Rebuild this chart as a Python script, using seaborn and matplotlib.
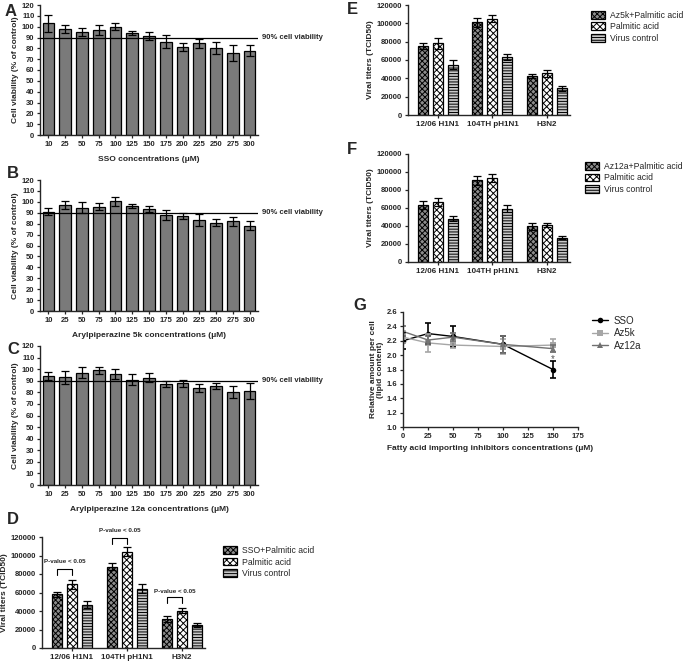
import numpy as np
import pandas as pd
import matplotlib
matplotlib.use('Agg')
import matplotlib.pyplot as plt
import seaborn as sns
from matplotlib.patches import Patch
from matplotlib.lines import Line2D

sns.set_style('ticks')
plt.rcParams['font.family'] = ['Liberation Sans', 'DejaVu Sans']
plt.rcParams['hatch.linewidth'] = 0.7

# ---------------- data ----------------
conc = ['10', '25', '50', '75', '100', '125', '150', '175', '200', '225', '250', '275', '300']
viab_A = [103, 98, 95, 97, 100, 94, 91.5, 86, 81, 84.5, 80, 76, 78]
err_A = [8, 4, 4, 4.5, 3, 2, 3.5, 6, 3.5, 4, 5.5, 7.5, 5]
viab_B = [91, 97, 94.5, 95.5, 100.5, 96, 93.5, 88, 87, 83, 81, 82, 78]
err_B = [3, 4, 5, 3, 4, 2, 3, 4.5, 3, 5.5, 3, 4.5, 4]
viab_C = [94, 93, 97, 99, 96, 91, 92.5, 87, 88, 84, 85.5, 80.5, 81]
err_C = [3.5, 5.5, 4.5, 3, 4.5, 4.5, 4, 2.5, 3, 3.5, 2.5, 5, 7]

strains = ['12/06 H1N1', '104TH pH1N1', 'H3N2']
treat_D = ['SSO+Palmitic acid', 'Palmitic acid', 'Virus control']
treat_E = ['Az5k+Palmitic acid', 'Palmitic acid', 'Virus control']
treat_F = ['Az12a+Palmitic acid', 'Palmitic acid', 'Virus control']
# rows: treatment, cols: strain
titer_D = [[58000, 88000, 31500], [69000, 104000, 40500], [47000, 64000, 25000]]
terr_D = [[3000, 4000, 3000], [5000, 5000, 3000], [4000, 5000, 2000]]
titer_E = [[75500, 101000, 42500], [78000, 105000, 45500], [55000, 63000, 29000]]
terr_E = [[3000, 5000, 2500], [6000, 4000, 3500], [4500, 3500, 2500]]
titer_F = [[63000, 91000, 39500], [67000, 93000, 41000], [48000, 59000, 27000]]
terr_F = [[4500, 5000, 4000], [4500, 4500, 2500], [3000, 4000, 2000]]

g_conc = [0, 25, 50, 100, 150]
g_SSO = [2.20, 2.30, 2.26, 2.15, 1.80]
g_SSO_err = [0.12, 0.15, 0.14, 0.12, 0.12]
g_Az5k = [2.25, 2.17, 2.14, 2.12, 2.14]
g_Az5k_err = [0.08, 0.12, 0.04, 0.10, 0.09]
g_Az12a = [2.33, 2.21, 2.25, 2.15, 2.09]
g_Az12a_err = [0.07, 0.05, 0.06, 0.12, 0.05]

W, H = 685, 662
fig = plt.figure(figsize=(W / 100, H / 100), dpi=100)


def rect(x0, y0, x1, y1):
    return [x0 / W, 1 - y1 / H, (x1 - x0) / W, (y1 - y0) / H]


TICKFS = 5.5
LABFS = 6.0


def style_axes(ax):
    sns.despine(ax=ax)
    for s in ['left', 'bottom']:
        ax.spines[s].set_linewidth(1.0)
    ax.tick_params(length=2.5, width=0.9, pad=1.5, labelsize=TICKFS)
    for lab in ax.get_xticklabels() + ax.get_yticklabels():
        lab.set_fontweight('bold')


def viability(r, vals, errs, xlabel):
    ax = fig.add_axes(r)
    df = pd.DataFrame({'conc': conc, 'v': vals})
    sns.barplot(data=df, x='conc', y='v', color='#7a7a7a', saturation=1,
                edgecolor='black', linewidth=0.9, width=0.7, ax=ax)
    ax.errorbar(range(len(conc)), vals, yerr=errs, fmt='none', ecolor='black',
                elinewidth=0.9, capsize=2.6, capthick=0.9, zorder=5)
    ax.axhline(90, color='black', lw=0.9, zorder=6)
    ax.text(1.02, 90, '90% cell viability', transform=ax.get_yaxis_transform(),
            fontsize=5.5, fontweight='bold', va='center', ha='left')
    ax.set_xlim(-0.5, 12.5)
    ax.set_ylim(0, 120)
    ax.set_yticks(range(0, 121, 10))
    ax.set_ylabel('Cell viability (% of control)', fontsize=LABFS, fontweight='bold', labelpad=2)
    ax.set_xlabel(xlabel, fontsize=LABFS, fontweight='bold', labelpad=6)
    style_axes(ax)
    return ax


viability(rect(40, 5, 258, 135), viab_A, err_A, 'SSO concentrations (μM)')
viability(rect(40, 180, 258, 311), viab_B, err_B, 'Arylpiperazine 5k concentrations (μM)')
viability(rect(40, 346, 258, 485), viab_C, err_C, 'Arylpiperazine 12a concentrations (μM)')

faces = ['#8c8c8c', 'white', '#c8c8c8']
hatches = ['xxxxxx', 'xxxxx', '------']


def titers(r, treats, vals, errs, leg_anchor):
    ax = fig.add_axes(r)
    rows = []
    for ti, t in enumerate(treats):
        for si, s in enumerate(strains):
            rows.append({'strain': s, 'treat': t, 'titer': vals[ti][si]})
    df = pd.DataFrame(rows)
    sns.barplot(data=df, x='strain', y='titer', hue='treat', hue_order=treats,
                order=strains, palette=faces, saturation=1, edgecolor='black',
                linewidth=0.9, width=0.82, gap=0.33, errorbar=None, legend=False, ax=ax)
    bar_conts = list(ax.containers)
    for ti, cont in enumerate(bar_conts):
        xs = []
        for p in cont:
            p.set_hatch(hatches[ti])
            xs.append(p.get_x() + p.get_width() / 2)
        ax.errorbar(xs, vals[ti], yerr=errs[ti], fmt='none', ecolor='black',
                    elinewidth=0.9, capsize=2.6, capthick=0.9, zorder=5)
    ax.set_xlim(-0.545, 2.42)
    ax.set_ylim(0, 120000)
    ax.set_yticks(range(0, 120001, 20000))
    ax.set_xlabel('')
    ax.set_ylabel('Viral titers (TCID50)', fontsize=LABFS, fontweight='bold', labelpad=2)
    style_axes(ax)
    ax.tick_params(axis='x', labelsize=5.8, pad=2)
    handles = [Patch(facecolor=faces[i], edgecolor='black', hatch=hatches[i], linewidth=0.9)
               for i in range(3)]
    ax.legend(handles, treats, loc='upper left', bbox_to_anchor=leg_anchor, frameon=False,
              fontsize=6.2, handlelength=1.6, handleheight=1.0, handletextpad=0.6,
              labelspacing=0.3, borderaxespad=0)
    return ax, bar_conts


axD, contsD = titers(rect(42, 537, 205, 648), treat_D, titer_D, terr_D, (1.09, 0.95))
# significance brackets in D
for si, (ybot, ytop, ytxt) in enumerate([(78600, 85000, 93000),
                                         (112800, 119300, 126500),
                                         (48600, 55100, 61600)]):
    p1 = contsD[0][si]
    p2 = contsD[1][si]
    x1 = p1.get_x() + p1.get_width() / 2
    x2 = p2.get_x() + p2.get_width() / 2
    axD.plot([x1, x1, x2, x2], [ybot, ytop, ytop, ybot], color='black', lw=0.8, clip_on=False)
    axD.text((x1 + x2) / 2, ytxt, 'P-value < 0.05', fontsize=4.5, fontweight='bold',
             ha='center', va='center', clip_on=False)

titers(rect(408, 5, 570, 115), treat_E, titer_E, terr_E, (1.11, 0.98))
titers(rect(408, 154, 570, 262), treat_F, titer_F, terr_F, (1.07, 0.96))

# ---------------- G ----------------
axG = fig.add_axes(rect(403, 312, 578, 427))
series = [('SSO', g_SSO, g_SSO_err, 'black', 'o'),
          ('Az5k', g_Az5k, g_Az5k_err, '#a6a6a6', 's'),
          ('Az12a', g_Az12a, g_Az12a_err, '#707070', '^')]
rows = []
for name, v, e, c, m in series:
    for x, y in zip(g_conc, v):
        rows.append({'conc': x, 'val': y, 'grp': name})
dfG = pd.DataFrame(rows)
sns.lineplot(data=dfG, x='conc', y='val', hue='grp', style='grp',
             hue_order=[s[0] for s in series], style_order=[s[0] for s in series],
             palette=[s[3] for s in series], markers=[s[4] for s in series],
             dashes=False, markersize=4, markeredgewidth=0, linewidth=1.0,
             legend=False, ax=axG)
for name, v, e, c, m in series:
    axG.errorbar(g_conc, v, yerr=e, fmt='none', ecolor=c, elinewidth=1.2,
                 capsize=2.5, capthick=1.2)
axG.text(150, 1.95, '*', fontsize=7, ha='center', va='center', color='#555555')
axG.set_xlim(0, 175)
axG.set_ylim(1.0, 2.6)
axG.set_xticks(range(0, 176, 25))
axG.set_yticks(np.round(np.arange(1.0, 2.61, 0.2), 1))
axG.set_ylabel('Relative amount per cell\n(lipid content)', fontsize=LABFS, fontweight='bold',
               labelpad=2, linespacing=1.0)
axG.set_xlabel('Fatty acid importing inhibitors concentrations (μM)', fontsize=LABFS,
               fontweight='bold', labelpad=4)
style_axes(axG)
gh = [Line2D([], [], color=s[3], marker=s[4], markersize=4, lw=1.0, markeredgewidth=0)
      for s in series]
axG.legend(gh, [s[0] for s in series], loc='upper left', bbox_to_anchor=(1.06, 1.0),
           frameon=False, fontsize=7, handlelength=1.6, handletextpad=0.6,
           labelspacing=0.25, borderaxespad=0)

# panel letters
for letter, x, y in [('A', 5, 12), ('B', 7, 174), ('C', 7, 349), ('D', 7, 520),
                     ('E', 347, 10), ('F', 347, 150), ('G', 353, 305)]:
    fig.text(x / W, 1 - y / H, letter, fontsize=12, fontweight='bold', ha='left', va='center')

fig.savefig('out.png', dpi=100)
